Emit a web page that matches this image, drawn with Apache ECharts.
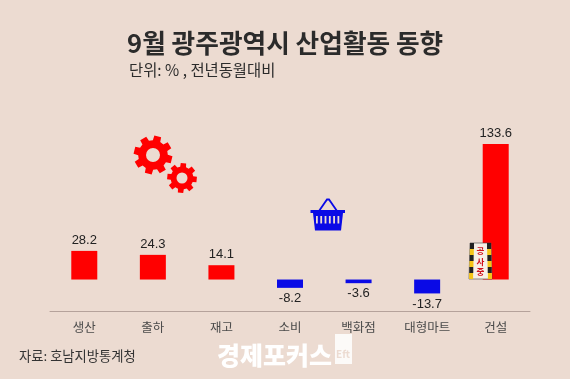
<!DOCTYPE html>
<html>
<head>
<meta charset="utf-8">
<style>
html, body { margin: 0; padding: 0; background: #ecdbd1; }
#main { width: 570px; height: 379px; }
</style>
<script src="https://cdn.jsdelivr.net/npm/echarts@6/dist/echarts.min.js"></script>
</head>
<body>
<div id="main"></div>
<script>
var categories = ['생산', '출하', '재고', '소비', '백화점', '대형마트', '건설'];
var values = [28.2, 24.3, 14.1, -8.2, -3.6, -13.7, 133.6];

var FONT = '"Noto Sans CJK KR", sans-serif';
var RED = '#ff0000';
var BLUE = '#0a0ae6';
var BG = '#ecdbd1';

// 톱니바퀴 아이콘
function gear(cx, cy, r, hole, rot) {
    var pts = [];
    var teeth = 8;
    for (var i = 0; i < teeth; i++) {
        var a = rot + i * Math.PI * 2 / teeth;
        var s = Math.PI / teeth;
        pts.push([cx + r * 0.76 * Math.cos(a - s * 0.66), cy + r * 0.76 * Math.sin(a - s * 0.66)]);
        pts.push([cx + r * Math.cos(a - s * 0.46), cy + r * Math.sin(a - s * 0.46)]);
        pts.push([cx + r * Math.cos(a + s * 0.46), cy + r * Math.sin(a + s * 0.46)]);
        pts.push([cx + r * 0.76 * Math.cos(a + s * 0.66), cy + r * 0.76 * Math.sin(a + s * 0.66)]);
    }
    return [
        { type: 'polygon', shape: { points: pts }, style: { fill: RED } },
        { type: 'circle', shape: { cx: cx, cy: cy, r: hole }, style: { fill: BG } }
    ];
}

// 장바구니 아이콘
function basket() {
    var g = [
        { type: 'polyline', shape: { points: [[319, 211], [327, 199.5], [329, 199.5], [337, 211]] }, style: { stroke: BLUE, lineWidth: 1.8, fill: null } },
        { type: 'rect', shape: { x: 310.5, y: 210, width: 34.5, height: 3 }, style: { fill: BLUE } },
        { type: 'polygon', shape: { points: [[313, 213], [343, 213], [341, 230.5], [315, 230.5]] }, style: { fill: BLUE } }
    ];
    for (var i = 0; i < 6; i++) {
        g.push({ type: 'rect', shape: { x: 316 + i * 4.3, y: 216, width: 1.8, height: 7.5 }, style: { fill: BG } });
    }
    return g;
}

// 공사중 표지판
function sign() {
    var g = [
        { type: 'polygon', shape: { points: [[470, 243], [491, 243], [492, 279], [469, 279]] }, style: { fill: '#f7efe6', stroke: '#444', lineWidth: 0.6 } }
    ];
    [470, 487].forEach(function (x0, k) {
        var lean = k === 0 ? -0.03 : 0.03;
        for (var i = 0; i < 6; i++) {
            var y = 243 + i * 6;
            var x = x0 + (y - 243) * lean;
            g.push({ type: 'rect', shape: { x: x, y: y, width: 4, height: 6 }, style: { fill: i % 2 ? '#f5c518' : '#222' } });
        }
    });
    ['공', '사', '중'].forEach(function (t, i) {
        g.push({ type: 'text', style: { text: t, x: 480.5, y: 247 + i * 10.5, fill: '#d0101c', font: '700 8.5px ' + FONT, textAlign: 'center' } });
    });
    return g;
}

function txt(text, x, y, size, weight, fill) {
    return { type: 'text', style: { text: text, x: x, y: y, fill: fill, font: weight + ' ' + size + 'px ' + FONT, textAlign: 'left', textVerticalAlign: 'middle' } };
}

var graphics = [
    txt('9월 광주광역시 산업활동 동향', 127, 43, 25.7, 700, '#2b2b2b'),
    txt('단위: % , 전년동월대비', 129, 70, 15.4, 400, '#2b2b2b'),
    txt('자료: 호남지방통계청', 19, 356, 13.3, 400, '#333333'),
    txt('경제포커스', 217, 355, 25, 900, '#ffffff'),
    { type: 'rect', shape: { x: 335, y: 334, width: 17, height: 30 }, style: { fill: 'rgba(255,255,255,0.85)' } },
    txt('Eft', 336, 354, 10, 700, BG)
]
    .concat(gear(153, 155, 19.5, 7, 0.25))
    .concat(gear(182, 178, 15, 5.5, 0.1))
    .concat(basket())
    .concat(sign());
graphics.forEach(function (g) { g.z = 100; });

var chart = echarts.init(document.getElementById('main'));
var option = {
    animation: false,
    backgroundColor: BG,
    textStyle: { fontFamily: FONT },
    grid: { left: 50, right: 40, top: 111, bottom: 68 },
    xAxis: {
        type: 'category',
        data: categories,
        axisLine: { onZero: false, lineStyle: { color: '#b5a29b', width: 1 } },
        axisTick: { show: false },
        axisLabel: { color: '#4a4a4a', fontSize: 12.5, margin: 10, interval: 0, fontFamily: FONT }
    },
    yAxis: {
        type: 'value',
        min: -31,
        max: 166,
        show: false,
        splitLine: { show: false }
    },
    series: [{
        type: 'bar',
        barWidth: 26,
        data: values.map(function (v) {
            // 음수 막대는 라벨을 아래로
            return v < 0 ? { value: v, label: { position: 'bottom', distance: 4 } } : v;
        }),
        itemStyle: {
            color: function (p) { return p.value >= 0 ? RED : BLUE; }
        },
        label: {
            show: true,
            position: 'top',
            distance: 4,
            color: '#222222',
            fontSize: 13,
            fontFamily: '"Liberation Sans", sans-serif'
        }
    }],
    graphic: { elements: graphics }
};
chart.setOption(option);
</script>
</body>
</html>
